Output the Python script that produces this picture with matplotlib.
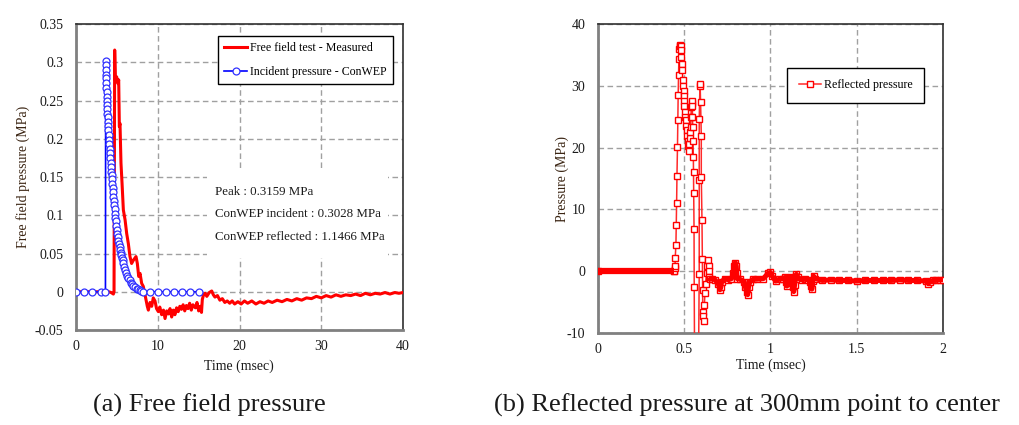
import numpy as np
import matplotlib
matplotlib.use("Agg")
import matplotlib.pyplot as plt
from matplotlib.ticker import FuncFormatter

plt.rcParams['font.family'] = ['Liberation Serif', 'DejaVu Serif']
plt.rcParams['axes.unicode_minus'] = False

# ---- (a) free field pressure ----
t_meas = [0, 1, 2, 3, 4.0, 4.3, 4.57, 4.65, 4.73, 4.81, 4.97, 5.14, 5.22, 5.3, 5.38, 5.5,
          5.63, 5.79, 6.0, 6.2, 6.4, 6.6, 6.8, 7.0, 7.34, 7.5, 7.67, 7.83, 8.03, 8.23, 8.48,
          8.72, 8.85, 9.05, 9.26, 9.45, 9.66, 9.85, 10.07, 10.25, 10.48, 10.7, 10.89, 11.1,
          11.3, 11.5, 11.7, 11.9, 12.1, 12.3, 12.5, 12.7, 12.9, 13.1, 13.3, 13.5, 13.7, 13.9,
          14.1, 14.3, 14.6, 14.8, 15.0, 15.2, 15.35, 15.45, 15.6, 15.8, 16.0, 16.3, 16.6, 16.8,
          17.0, 17.3, 17.6, 17.9, 18.2, 18.5, 18.8, 19.1, 19.4, 19.8, 20.2, 20.6, 21.0, 21.5,
          22.0, 22.5, 23.0, 23.5, 24.0, 24.6, 25.2, 25.8, 26.4, 27.0, 27.6, 28.2, 28.8, 29.4,
          30.0, 30.6, 31.2, 31.8, 32.4, 33.0, 33.6, 34.2, 34.8, 35.4, 36.0, 36.6, 37.2, 37.8,
          38.4, 39.0, 39.5, 40.0]
p_meas = [0, 0, 0, 0, 0, -0.001, -0.003, 0.0, 0.316, 0.277, 0.281, 0.272, 0.277, 0.216, 0.220, 0.168,
          0.142, 0.107, 0.094, 0.076, 0.063, 0.046, 0.037, 0.041, 0.046, 0.037, 0.020, 0.024, 0.011, 0.007, -0.006,
          -0.019, -0.024, -0.014, -0.019, -0.008, -0.012, -0.022, -0.026, -0.020, -0.030, -0.024, -0.035, -0.025,
          -0.029, -0.022, -0.033, -0.024, -0.030, -0.021, -0.026, -0.019, -0.023, -0.017, -0.025, -0.018, -0.022, -0.015,
          -0.024, -0.017, -0.021, -0.014, -0.025, -0.019, -0.027, -0.010, -0.004, -0.002, -0.006, -0.001, 0.001, -0.004,
          -0.007, -0.005, -0.011, -0.009, -0.014, -0.012, -0.015, -0.012, -0.016, -0.013, -0.016, -0.012, -0.015, -0.012,
          -0.016, -0.013, -0.015, -0.012, -0.014, -0.011, -0.013, -0.010, -0.012, -0.009, -0.011, -0.008, -0.009, -0.006,
          -0.008, -0.005, -0.007, -0.004, -0.006, -0.004, -0.005, -0.003, -0.005, -0.002, -0.004, -0.002, -0.003, -0.001,
          -0.003, -0.001, -0.002, -0.001]

t_conwep = [0, 1, 2, 3, 3.6, 3.63, 3.645, 3.66, 3.675, 3.69, 3.705, 3.72, 3.735, 3.75, 3.775, 3.8,
            3.825, 3.85, 3.875, 3.9, 3.925, 3.95, 3.99, 4.03, 4.07, 4.11, 4.15, 4.19, 4.24, 4.28,
            4.32, 4.36, 4.4, 4.44, 4.48, 4.52, 4.57, 4.62, 4.67, 4.72, 4.77, 4.82, 4.87, 4.92,
            4.97, 5.04, 5.11, 5.18, 5.25, 5.32, 5.38, 5.46, 5.54, 5.62, 5.7, 5.8, 5.9, 6.0,
            6.12, 6.25, 6.4, 6.55, 6.7, 6.85, 7.0, 7.2, 7.4, 7.6, 7.8, 8.0, 8.2,
            9, 10, 11, 12, 13, 14, 15]
p_conwep = [0, 0, 0, 0, 0, 0.302, 0.296, 0.290, 0.284, 0.279, 0.273, 0.267, 0.261, 0.255, 0.250, 0.244,
            0.239, 0.233, 0.228, 0.222, 0.217, 0.211, 0.205, 0.199, 0.193, 0.187, 0.181, 0.175, 0.168, 0.163,
            0.157, 0.152, 0.147, 0.141, 0.136, 0.131, 0.124, 0.119, 0.113, 0.108, 0.102, 0.097, 0.092, 0.086,
            0.081, 0.076, 0.072, 0.067, 0.063, 0.059, 0.055, 0.051, 0.048, 0.044, 0.041, 0.037, 0.032, 0.028,
            0.025, 0.021, 0.018, 0.015, 0.012, 0.010, 0.008, 0.006, 0.004, 0.003, 0.002, 0.001, 0.0,
            0, 0, 0, 0, 0, 0, 0]

notes = ["Peak : 0.3159 MPa", "ConWEP incident : 0.3028 MPa", "ConWEP reflected : 1.1466 MPa"]

# ---- (b) reflected pressure ----
t_refl = [0.0, 0.44, 0.442, 0.445, 0.447, 0.448, 0.452, 0.454, 0.456, 0.458, 0.461, 0.463, 0.465, 0.467,
          0.469, 0.471, 0.473, 0.476, 0.479, 0.481, 0.483, 0.485, 0.487, 0.491, 0.495, 0.496, 0.497,
          0.498, 0.499, 0.504, 0.506, 0.508, 0.511, 0.514, 0.516, 0.520, 0.522, 0.526, 0.530, 0.534,
          0.536, 0.537, 0.539, 0.541, 0.543, 0.545, 0.547, 0.548, 0.549, 0.551, 0.553, 0.554, 0.555,
          0.557, 0.558, 0.562, 0.580, 0.587, 0.587, 0.587, 0.591, 0.592, 0.595, 0.599, 0.599, 0.603,
          0.605, 0.607, 0.607, 0.609, 0.613, 0.617, 0.620, 0.624, 0.630, 0.634, 0.638, 0.641, 0.641,
          0.645, 0.649, 0.661, 0.678, 0.697, 0.707, 0.712, 0.717, 0.736, 0.755, 0.774, 0.785, 0.790,
          0.796, 0.802, 0.804, 0.807, 0.823, 0.848, 0.854, 0.862, 0.868, 0.873, 0.881, 0.90, 0.92,
          0.959, 0.987, 1.0, 1.01, 1.03, 1.05, 1.07, 1.085, 1.09, 1.095, 1.10, 1.105, 1.12, 1.125,
          1.13, 1.135, 1.14, 1.145, 1.15, 1.16, 1.18, 1.20, 1.22, 1.23, 1.236, 1.24, 1.245, 1.25,
          1.26, 1.30, 1.35, 1.40, 1.45, 1.5, 1.55, 1.6, 1.65, 1.7, 1.75, 1.8, 1.85, 1.9, 1.915,
          1.925, 1.94, 1.96, 1.98, 2.0]
p_refl = [0.0, 0.0, 0.0, 0.5, 0.9, 2.2, 4.3, 7.4, 11.1, 15.4, 20.1, 24.5, 28.5, 31.8,
          34.3, 35.9, 36.4, 36.6, 36.5, 35.8, 34.7, 33.6, 32.6, 31.0, 29.9, 29.2, 28.3,
          27.5, 26.8, 25.8, 24.9, 24.5, 23.5, 22.8, 21.8, 21.0, 20.3, 19.5, 20.6, 21.6,
          22.5, 23.4, 25.0, 26.5, 27.2, 27.6, 26.8, 25.0, 23.4, 21.1, 18.5, 16.0, 12.6,
          6.8, -2.5, -25.0, -25.0, -0.5, 14.8, 24.6, 29.9, 30.3, 27.3, 21.9, 15.3, 8.3,
          1.9, -3.0, -6.6, -7.2, -8.0, -5.5, -3.6, -2.0, -0.3, 0.9, 1.8, 0.9, 0.1,
          -1.0, -1.3, -1.2, -1.4, -2.0, -3.0, -2.6, -1.7, -1.2, -1.4, -1.2, -0.3, 0.8,
          1.4, 0.8, -0.3, -1.2, -1.3, -1.7, -2.5, -3.3, -3.8, -2.5, -1.7, -1.3, -1.3,
          -1.2, -0.3, -0.2, -0.8, -1.6, -1.3, -1.2, -1.0, -1.8, -2.4, -1.9, -1.1, -0.9, -1.7,
          -2.6, -3.3, -2.2, -0.9, -0.5, -1.0, -1.4, -1.3, -1.4, -1.8, -2.4, -2.9, -1.6, -0.8,
          -1.2, -1.5, -1.4, -1.5, -1.5, -1.6, -1.5, -1.5, -1.5, -1.5, -1.4, -1.5, -1.5, -1.6, -2.0,
          -1.7, -1.5, -1.5, -1.4, -1.4]

grid_kw = dict(color='#a0a0a0', linestyle=(0, (4, 2.5)), linewidth=1.0)
txt = '#1a1a1a'

fig = plt.figure(figsize=(10.19, 4.25), dpi=100)
ax1 = fig.add_axes([0.0746, 0.2235, 0.3209, 0.72])
ax2 = fig.add_axes([0.5868, 0.2165, 0.3386, 0.727])


def style_axes(ax):
    ax.grid(True, **grid_kw)
    ax.set_axisbelow(True)
    for s in ['left', 'bottom']:
        ax.spines[s].set_color('#808080')
        ax.spines[s].set_linewidth(2.0)
    for s in ['top', 'right']:
        ax.spines[s].set_color('#303030')
        ax.spines[s].set_linewidth(1.2)
    ax.tick_params(length=0, labelsize=10, colors=txt)
    ax.tick_params(axis='y', pad=9)
    ax.tick_params(axis='x', pad=7)


# (a)
style_axes(ax1)
l1, = ax1.plot(t_meas, p_meas, color='#ff0000', lw=2.2, zorder=3)
l2, = ax1.plot(t_conwep, p_conwep, color='#0000ff', lw=1.2, marker='o', ms=5.0,
               mfc='white', mec='#3030ff', mew=0.9, zorder=4)
ax1.set_xlim(0, 40)
ax1.set_ylim(-0.05, 0.35)
ax1.set_xticks([0, 10, 20, 30, 40])
ax1.set_yticks(np.arange(-0.05, 0.351, 0.05))
ax1.yaxis.set_major_formatter(FuncFormatter(lambda v, p: '%g' % round(v, 2)))
ax1.set_xlabel('Time (msec)', fontsize=10, color=txt)
ax1.set_ylabel('Free field pressure (MPa)', fontsize=10, color='#3a2412')
ax1.xaxis.set_label_coords(0.497, -0.095)
ax1.yaxis.set_label_coords(-0.141, 0.5)
leg1 = ax1.legend([l1, l2], ['Free field test - Measured', 'Incident pressure - ConWEP'],
                  loc='upper right', bbox_to_anchor=(0.968, 0.961), borderaxespad=0,
                  fontsize=8.6, frameon=True, fancybox=False, edgecolor='black',
                  framealpha=1, handlelength=1.9, handletextpad=0.25, labelspacing=1.05,
                  borderpad=0.5)
leg1.get_frame().set_linewidth(1.0)
leg1.set_zorder(6)
ax1.add_patch(plt.Rectangle((0.40, 0.235), 0.555, 0.29, transform=ax1.transAxes,
                            facecolor='white', edgecolor='none', zorder=2))
for i, s in enumerate(notes):
    ax1.text(0.425, 0.451 - i * 0.0735, s, transform=ax1.transAxes, fontsize=9.3,
             color=txt, va='center', ha='left', zorder=5)

# (b)
style_axes(ax2)
pre = [i for i, t in enumerate(t_refl) if t <= 0.442]
tail = [i for i, t in enumerate(t_refl) if t >= 0.645]
l3, = ax2.plot(t_refl, p_refl, color='#ff2a2a', lw=1.1, marker='s', ms=4.0,
               mfc='white', mec='#ff0000', mew=1.0, zorder=4)
ax2.plot([t_refl[i] for i in pre], [p_refl[i] for i in pre], color='#ff0000', lw=4.5,
         solid_capstyle='butt', zorder=5)
ax2.plot([t_refl[i] for i in tail], [p_refl[i] for i in tail], color='#ff0000', lw=3.6,
         solid_capstyle='butt', zorder=5)
ax2.set_xlim(0, 2)
ax2.set_ylim(-10, 40)
ax2.set_xticks([0, 0.5, 1, 1.5, 2])
ax2.set_yticks([-10, 0, 10, 20, 30, 40])
ax2.xaxis.set_major_formatter(FuncFormatter(lambda v, p: '%g' % v))
ax2.set_xlabel('Time (msec)', fontsize=10, color=txt)
ax2.set_ylabel('Pressure (MPa)', fontsize=10, color='#3a2412')
ax2.xaxis.set_label_coords(0.501, -0.084)
ax2.yaxis.set_label_coords(-0.084, 0.5)
leg2 = ax2.legend([l3], ['Reflected pressure'], loc='upper right',
                  bbox_to_anchor=(0.946, 0.858), borderaxespad=0, fontsize=8.6,
                  frameon=True, fancybox=False, edgecolor='black', framealpha=1,
                  handlelength=1.9, handletextpad=0.25, borderpad=0.95)
leg2.get_frame().set_linewidth(1.0)
leg2.set_zorder(6)

fig.text(0.2056, 0.047, '(a) Free field pressure', ha='center', va='center',
         fontsize=19, color=txt)
fig.text(0.7326, 0.047, '(b) Reflected pressure at 300mm point to center', ha='center',
         va='center', fontsize=19, color=txt)

fig.savefig('out.png', dpi=100)
plt.close(fig)
